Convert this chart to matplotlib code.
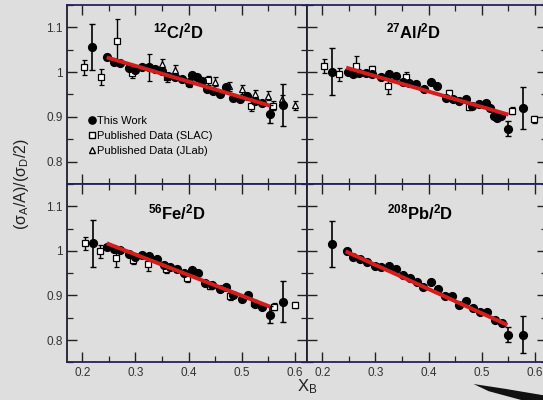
import numpy as np
import matplotlib.pyplot as plt
from matplotlib.ticker import MultipleLocator, FuncFormatter
from matplotlib.lines import Line2D
from matplotlib.patches import Polygon

plt.rcParams['font.family'] = ['Liberation Sans', 'DejaVu Sans']
plt.rcParams['mathtext.fontset'] = 'custom'
plt.rcParams['mathtext.rm'] = 'Liberation Sans'
plt.rcParams['mathtext.bf'] = 'Liberation Sans:bold'
plt.rcParams['mathtext.it'] = 'Liberation Sans:italic'

# ---- 12C/2D ----
c_x = [0.219, 0.246, 0.259, 0.271, 0.287, 0.299, 0.312, 0.325, 0.337, 0.350, 0.362, 0.375, 0.387, 0.400,
       0.406, 0.415, 0.425, 0.434, 0.446, 0.459, 0.471, 0.484, 0.496, 0.509, 0.525, 0.537, 0.552, 0.578]
c_y = [1.056, 1.033, 1.023, 1.020, 1.009, 1.005, 1.011, 1.011, 1.007, 1.002, 0.992, 0.988, 0.984, 0.977,
       0.993, 0.988, 0.981, 0.962, 0.958, 0.951, 0.966, 0.943, 0.941, 0.947, 0.936, 0.930, 0.906, 0.926]
c_err = [0.052, 0.004, 0.004, 0.004, 0.004, 0.004, 0.004, 0.004, 0.004, 0.004, 0.004, 0.004, 0.004, 0.004,
         0.004, 0.004, 0.004, 0.004, 0.004, 0.004, 0.004, 0.004, 0.004, 0.004, 0.004, 0.004, 0.020, 0.047]
c_slac_x = [0.204, 0.235, 0.265, 0.293, 0.359, 0.400, 0.437, 0.518, 0.559]
c_slac_y = [1.011, 0.990, 1.070, 0.998, 0.988, 0.975, 0.982, 0.925, 0.925]
c_slac_err = [0.017, 0.018, 0.048, 0.012, 0.010, 0.008, 0.010, 0.012, 0.010]
c_jlab_x = [0.325, 0.350, 0.375, 0.450, 0.475, 0.500, 0.525, 0.550, 0.575, 0.600]
c_jlab_y = [1.011, 1.018, 1.005, 0.978, 0.968, 0.962, 0.951, 0.947, 0.939, 0.926]
c_jlab_err = [0.030, 0.012, 0.012, 0.010, 0.010, 0.010, 0.010, 0.010, 0.010, 0.010]
c_fit_x = [0.246, 0.553]
c_fit_y = [1.033, 0.925]

# ---- 27Al/2D ----
al_x = [0.218, 0.248, 0.257, 0.269, 0.282, 0.294, 0.310, 0.326, 0.338, 0.351, 0.363, 0.376, 0.391, 0.404,
        0.416, 0.432, 0.445, 0.457, 0.470, 0.482, 0.495, 0.507, 0.516, 0.523, 0.529, 0.535, 0.549, 0.577]
al_y = [1.001, 1.000, 0.995, 0.997, 0.997, 0.995, 0.990, 0.995, 0.992, 0.977, 0.975, 0.973, 0.962, 0.977,
        0.968, 0.943, 0.941, 0.936, 0.941, 0.924, 0.928, 0.930, 0.920, 0.902, 0.898, 0.902, 0.874, 0.920]
al_err = [0.052, 0.004, 0.004, 0.004, 0.004, 0.004, 0.004, 0.004, 0.004, 0.004, 0.004, 0.004, 0.004, 0.004,
          0.004, 0.004, 0.004, 0.004, 0.004, 0.004, 0.004, 0.004, 0.004, 0.004, 0.004, 0.004, 0.017, 0.047]
al_slac_x = [0.203, 0.232, 0.263, 0.294, 0.323, 0.357, 0.438, 0.476, 0.557, 0.597]
al_slac_y = [1.014, 0.995, 1.014, 1.006, 0.970, 0.990, 0.953, 0.923, 0.914, 0.895]
al_slac_err = [0.015, 0.015, 0.022, 0.008, 0.020, 0.010, 0.008, 0.008, 0.008, 0.008]
al_fit_x = [0.245, 0.550]
al_fit_y = [1.010, 0.905]

# ---- 56Fe/2D ----
fe_x = [0.221, 0.246, 0.259, 0.271, 0.287, 0.299, 0.312, 0.326, 0.340, 0.353, 0.365, 0.378, 0.391, 0.406,
        0.418, 0.431, 0.443, 0.459, 0.471, 0.484, 0.500, 0.512, 0.525, 0.537, 0.552, 0.578]
fe_y = [1.017, 1.008, 1.004, 1.001, 0.993, 0.987, 0.991, 0.989, 0.982, 0.968, 0.963, 0.959, 0.950, 0.957,
        0.950, 0.928, 0.924, 0.914, 0.920, 0.901, 0.892, 0.901, 0.881, 0.875, 0.857, 0.886]
fe_err = [0.052, 0.004, 0.004, 0.004, 0.004, 0.004, 0.004, 0.004, 0.004, 0.004, 0.004, 0.004, 0.004,
          0.004, 0.004, 0.004, 0.004, 0.004, 0.004, 0.004, 0.004, 0.004, 0.004, 0.004, 0.019, 0.046]
fe_slac_x = [0.206, 0.234, 0.264, 0.296, 0.324, 0.358, 0.397, 0.441, 0.478, 0.522, 0.560, 0.600]
fe_slac_y = [1.017, 0.999, 0.984, 0.980, 0.970, 0.960, 0.939, 0.922, 0.899, 0.883, 0.875, 0.879]
fe_slac_err = [0.015, 0.015, 0.020, 0.010, 0.015, 0.010, 0.008, 0.008, 0.008, 0.008, 0.008, 0.006]
fe_fit_x = [0.246, 0.553]
fe_fit_y = [1.017, 0.875]

# ---- 208Pb/2D ----
pb_x = [0.218, 0.246, 0.257, 0.271, 0.285, 0.299, 0.311, 0.326, 0.338, 0.351, 0.365, 0.378, 0.390, 0.404,
        0.418, 0.430, 0.443, 0.457, 0.470, 0.484, 0.496, 0.510, 0.524, 0.537, 0.549, 0.577]
pb_y = [1.016, 0.999, 0.987, 0.981, 0.975, 0.967, 0.963, 0.966, 0.960, 0.946, 0.939, 0.931, 0.918, 0.931,
        0.914, 0.898, 0.898, 0.879, 0.888, 0.873, 0.862, 0.864, 0.844, 0.838, 0.812, 0.812]
pb_err = [0.052, 0.004, 0.004, 0.004, 0.004, 0.004, 0.004, 0.004, 0.004, 0.004, 0.004, 0.004, 0.004,
          0.004, 0.004, 0.004, 0.004, 0.004, 0.004, 0.004, 0.004, 0.004, 0.004, 0.004, 0.017, 0.042]
pb_fit_x = [0.244, 0.548]
pb_fit_y = [0.999, 0.834]

titles = [r'$\mathbf{^{12}}$C/$\mathbf{^{2}}$D', r'$\mathbf{^{27}}$Al/$\mathbf{^{2}}$D',
          r'$\mathbf{^{56}}$Fe/$\mathbf{^{2}}$D', r'$\mathbf{^{208}}$Pb/$\mathbf{^{2}}$D']
title_pos = [(0.380, 1.090), (0.371, 1.092), (0.378, 1.087), (0.384, 1.087)]

bg = '#dedede'
fig = plt.figure(figsize=(5.43, 4.0), dpi=100, facecolor=bg)
W = 0.442
ax_c = fig.add_axes([0.124, 0.540, W, 0.4475])
ax_al = fig.add_axes([0.566, 0.540, W, 0.4475])
ax_fe = fig.add_axes([0.124, 0.094, W, 0.446])
ax_pb = fig.add_axes([0.566, 0.094, W, 0.446])
axes = [ax_c, ax_al, ax_fe, ax_pb]


def draw(ax, x, y, err, fx, fy, sx=None, sy=None, serr=None, jx=None, jy=None, jerr=None):
    if sx is not None:
        ax.errorbar(sx, sy, yerr=serr, fmt='s', ms=4.8, mfc='white', mec='black', mew=0.9,
                    ecolor='black', elinewidth=1, capsize=1.8, zorder=2)
    if jx is not None:
        ax.errorbar(jx, jy, yerr=jerr, fmt='^', ms=4.8, mfc='white', mec='black', mew=0.9,
                    ecolor='black', elinewidth=1, capsize=1.8, zorder=2)
    ax.errorbar(x, y, yerr=err, fmt='o', ms=5.6, color='black', ecolor='black',
                elinewidth=1.2, capsize=2, zorder=3)
    ax.plot(fx, fy, color='#d41e1e', lw=2.8, solid_capstyle='butt', zorder=4)


draw(ax_c, c_x, c_y, c_err, c_fit_x, c_fit_y, c_slac_x, c_slac_y, c_slac_err,
     c_jlab_x, c_jlab_y, c_jlab_err)
draw(ax_al, al_x, al_y, al_err, al_fit_x, al_fit_y, al_slac_x, al_slac_y, al_slac_err)
draw(ax_fe, fe_x, fe_y, fe_err, fe_fit_x, fe_fit_y, fe_slac_x, fe_slac_y, fe_slac_err)
draw(ax_pb, pb_x, pb_y, pb_err, pb_fit_x, pb_fit_y)

fmt = FuncFormatter(lambda v, p: '%g' % round(v, 2))
for i, ax in enumerate(axes):
    ax.set_facecolor(bg)
    ax.set_xlim(0.172, 0.623)
    ax.set_ylim(0.75, 1.15)
    ax.xaxis.set_major_locator(MultipleLocator(0.1))
    ax.xaxis.set_minor_locator(MultipleLocator(0.05))
    ax.yaxis.set_major_locator(MultipleLocator(0.1))
    ax.yaxis.set_minor_locator(MultipleLocator(0.05))
    ax.xaxis.set_major_formatter(fmt)
    ax.yaxis.set_major_formatter(fmt)
    ax.tick_params(which='both', direction='in', top=True, right=True, colors='#222222',
                   labelsize=8.5, labelcolor='#333333')
    ax.tick_params(which='major', length=7, width=1)
    ax.tick_params(which='minor', length=4, width=0.9)
    for s in ax.spines.values():
        s.set_color('#1e1e2e')
        s.set_linewidth(1.3)
    ax.spines['bottom'].set_color('#23235a')
    ax.spines['top'].set_color('#23235a')
    if i in (1, 3):
        ax.tick_params(labelleft=False)
    if i in (0, 1):
        ax.tick_params(labelbottom=False)
    ax.text(title_pos[i][0], title_pos[i][1], titles[i], fontsize=12, fontweight='bold',
            ha='center', va='center')

handles = [Line2D([], [], ls='none', marker='o', ms=5.2, color='black'),
           Line2D([], [], ls='none', marker='s', ms=4.4, mfc='white', mec='black'),
           Line2D([], [], ls='none', marker='^', ms=4.4, mfc='white', mec='black')]
ax_c.legend(handles, ['This Work', 'Published Data (SLAC)', 'Published Data (JLab)'],
            loc='center left', bbox_to_anchor=(0.06, 0.27), frameon=False, fontsize=8,
            handlelength=0.6, handletextpad=0.2, labelspacing=0.45, borderpad=0.1)

fig.text(0.04, 0.54, r'($\mathrm{\sigma_A}$/A)/($\mathrm{\sigma_D}$/2)', rotation=90,
         fontsize=11.5, ha='center', va='center', color='#222222')
fig.text(0.566, 0.034, r'X$_\mathrm{B}$', fontsize=12, ha='center', va='center', color='#222222')

# dark smudge in the lower right corner of the scan
fig.patches.append(Polygon([(0.872, 0.040), (0.93, 0.028), (1.0, 0.012), (1.0, 0.0), (0.96, 0.0),
                            (0.90, 0.022)], closed=True, transform=fig.transFigure,
                           facecolor='#111111', edgecolor='none'))

fig.savefig('out.png', dpi=100, facecolor=bg)
